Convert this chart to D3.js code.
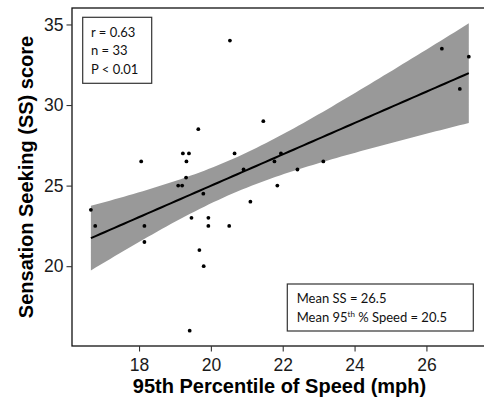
<!DOCTYPE html>
<html>
<head>
<meta charset="utf-8">
<script src="https://cdn.jsdelivr.net/npm/d3@7"></script>
<style>
  body { margin: 0; background: #fff; }
  svg { display: block; }
</style>
</head>
<body>
<svg id="chart" width="484" height="397"></svg>
<script>
// 95th percentile of speed (mph) per driver
const speed = [16.66, 16.78, 18.06, 18.15, 18.15, 19.09, 19.20, 19.22, 19.39, 19.32, 19.31,
  19.65, 19.79, 19.46, 19.93, 19.93, 19.68, 19.80, 19.41, 20.53, 20.51, 20.66, 20.91,
  21.10, 21.46, 21.77, 21.95, 21.85, 22.41, 23.13, 26.43, 27.18, 26.93];
// sensation seeking score for the same drivers
const ssScore = [23.5, 22.5, 26.5, 22.5, 21.5, 25, 25, 27, 27, 26.5, 25.5,
  28.5, 24.5, 23, 23, 22.5, 21, 20, 16, 34, 22.5, 27, 26,
  24, 29, 26.5, 27, 25, 26, 26.5, 33.5, 33, 31];
const xTicks = [18, 20, 22, 24, 26];
const yTicks = [20, 25, 30, 35];
const statsLines = ["r = 0.63", "n = 33", "P < 0.01"];

const svg = d3.select("#chart");
const margin = { left: 72, top: 8, right: 484 + 3.7, bottom: 346 };

// linear fit + 95% confidence band
const n = speed.length;
const xbar = d3.mean(speed), ybar = d3.mean(ssScore);
const sxx = d3.sum(speed, d => (d - xbar) ** 2);
const sxy = d3.sum(speed, (d, i) => (d - xbar) * (ssScore[i] - ybar));
const slope = sxy / sxx;
const icpt = ybar - slope * xbar;
const sse = d3.sum(speed, (d, i) => (ssScore[i] - (icpt + slope * d)) ** 2);
const s = Math.sqrt(sse / (n - 2));
const tcrit = 2.0395; // qt(0.975, 31)

const [xmin, xmax] = d3.extent(speed);
const band = d3.range(0, 81).map(k => {
  const x = xmin + (xmax - xmin) * k / 80;
  const fit = icpt + slope * x;
  const se = s * Math.sqrt(1 / n + (x - xbar) ** 2 / sxx);
  return { x, fit, lo: fit - tcrit * se, hi: fit + tcrit * se };
});

const xpad = (xmax - xmin) * 0.05;
const ylo = Math.min(d3.min(ssScore), d3.min(band, d => d.lo));
const yhi = Math.max(d3.max(ssScore), d3.max(band, d => d.hi));
const ypad = (yhi - ylo) * 0.05;

const x = d3.scaleLinear().domain([xmin - xpad, xmax + xpad]).range([margin.left, margin.right]);
const y = d3.scaleLinear().domain([ylo - ypad, yhi + ypad]).range([margin.bottom, margin.top]);

// band
svg.append("path")
  .datum(band)
  .attr("fill", "#999")
  .attr("d", d3.area().x(d => x(d.x)).y0(d => y(d.lo)).y1(d => y(d.hi)));

// fit line
svg.append("path")
  .datum(band)
  .attr("fill", "none")
  .attr("stroke", "#000")
  .attr("stroke-width", 2)
  .attr("d", d3.line().x(d => x(d.x)).y(d => y(d.fit)));

// points
svg.append("g")
  .selectAll("circle")
  .data(speed)
  .join("circle")
  .attr("cx", d => x(d))
  .attr("cy", (d, i) => y(ssScore[i]))
  .attr("r", 1.9)
  .attr("fill", "#000");

// panel border
svg.append("rect")
  .attr("x", margin.left)
  .attr("y", margin.top)
  .attr("width", margin.right - margin.left)
  .attr("height", margin.bottom - margin.top)
  .attr("fill", "none")
  .attr("stroke", "#111")
  .attr("stroke-width", 1.3);

// axes
const xAxis = svg.append("g")
  .attr("transform", `translate(0,${margin.bottom})`)
  .call(d3.axisBottom(x).tickValues(xTicks).tickSize(5.5).tickPadding(7.5).tickFormat(d3.format("d")));
const yAxis = svg.append("g")
  .attr("transform", `translate(${margin.left},0)`)
  .call(d3.axisLeft(y).tickValues(yTicks).tickSize(5.5).tickPadding(3).tickFormat(d3.format("d")));

[xAxis, yAxis].forEach(g => {
  g.select(".domain").remove();
  g.selectAll("line").attr("stroke", "#333").attr("stroke-width", 1.1);
  g.selectAll("text")
    .attr("fill", "#1a1a1a")
    .style("font-family", "'Liberation Sans', Arial, sans-serif")
    .style("font-size", "17.5px");
});

// axis titles
svg.append("text")
  .attr("x", 279.5)
  .attr("y", 393)
  .attr("text-anchor", "middle")
  .style("font-family", "'Liberation Sans', Arial, sans-serif")
  .style("font-size", "20px")
  .style("font-weight", "bold")
  .text("95th Percentile of Speed (mph)");

svg.append("text")
  .attr("transform", `translate(33,${(margin.top + margin.bottom) / 2}) rotate(-90)`)
  .attr("text-anchor", "middle")
  .style("font-family", "'Liberation Sans', Arial, sans-serif")
  .style("font-size", "20px")
  .style("font-weight", "bold")
  .text("Sensation Seeking (SS) score");

// stats box
const note = "Lato, 'Open Sans', sans-serif";
svg.append("rect")
  .attr("x", 82.7).attr("y", 17.3)
  .attr("width", 69).attr("height", 66)
  .attr("fill", "#fff").attr("stroke", "#333").attr("stroke-width", 1.2);
svg.append("g")
  .selectAll("text")
  .data(statsLines)
  .join("text")
  .attr("x", 91)
  .attr("y", (d, i) => 36.7 + i * 18.6)
  .style("font-family", note)
  .style("font-size", "13px")
  .attr("fill", "#111")
  .text(d => d);

// means box
svg.append("rect")
  .attr("x", 287.3).attr("y", 284)
  .attr("width", 186).attr("height", 47)
  .attr("fill", "#fff").attr("stroke", "#333").attr("stroke-width", 1.2);
svg.append("text")
  .attr("x", 296.7).attr("y", 303.3)
  .style("font-family", note).style("font-size", "13px").attr("fill", "#111")
  .text("Mean SS = 26.5");
const t2 = svg.append("text")
  .attr("x", 296.7).attr("y", 321.7)
  .style("font-family", note).style("font-size", "13px").attr("fill", "#111");
t2.append("tspan").text("Mean 95");
t2.append("tspan").attr("dy", -5).style("font-size", "8px").text("th");
t2.append("tspan").attr("dy", 5).text(" % Speed = 20.5");
</script>
</body>
</html>
